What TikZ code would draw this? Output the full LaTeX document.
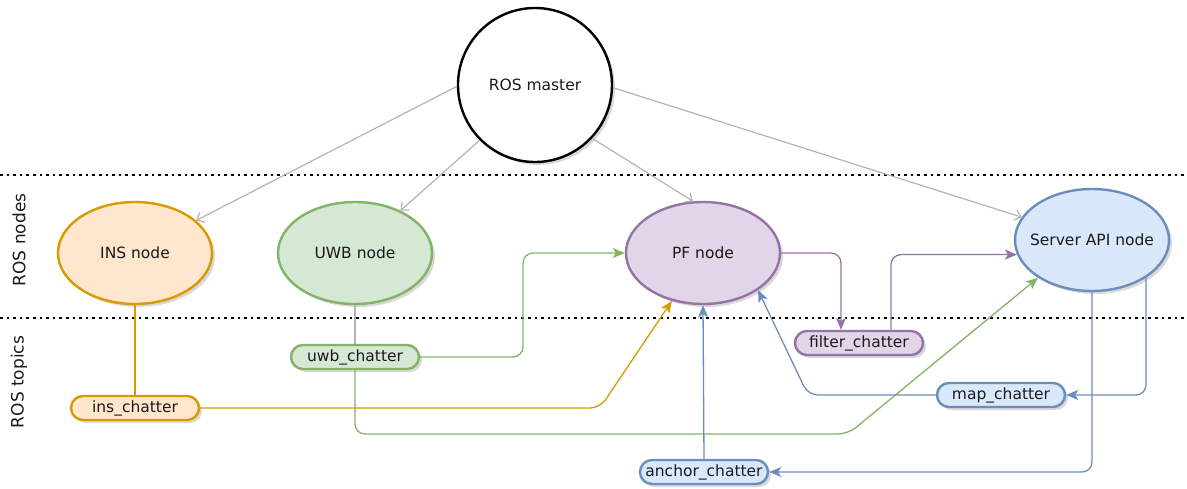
\documentclass[tikz,border=0pt]{standalone}
\usepackage{fontspec}
\setmainfont{DejaVu Sans}
\usetikzlibrary{shapes.geometric,shadows,arrows.meta}
\definecolor{insfill}{HTML}{FFE6CC}\definecolor{insline}{HTML}{D79B00}
\definecolor{uwbfill}{HTML}{D5E8D4}\definecolor{uwbline}{HTML}{82B366}
\definecolor{pffill}{HTML}{E1D5E7}\definecolor{pfline}{HTML}{9673A6}
\definecolor{apifill}{HTML}{DAE8FC}\definecolor{apiline}{HTML}{6C8EBF}
\definecolor{masterline}{HTML}{B3B3B3}\definecolor{txt}{HTML}{1A1A1A}
\begin{document}
\begin{tikzpicture}[x=1pt,y=-1pt,
  every node/.style={text=txt,font=\fontsize{15.5}{18}\selectfont},
  shade/.style={drop shadow={shadow xshift=3pt,shadow yshift=-3pt,opacity=0.3}},
  rosnode/.style={draw,ellipse,line width=2.4pt,minimum width=154pt,minimum height=102pt,shade},
  topic/.style={draw,rectangle,rounded corners=12pt,line width=2.4pt,minimum width=128pt,minimum height=24pt,inner sep=0pt,shade},
  reg/.style={draw,line width=1.2pt,masterline,-{Straight Barb[length=6pt,width=11pt]}},
  pub/.style={line width=1.3pt,rounded corners=10pt,-{Stealth[length=12pt,width=10pt,inset=3pt]}},
  sep/.style={line width=2.6pt,dash pattern=on 2.6pt off 4pt}]
  \useasboundingbox (0,0) rectangle (1187,488);
  % layers
  \draw[sep] (0,175) -- (1187,175);
  \draw[sep] (0,318) -- (1187,318);
  \node[rotate=90,font=\fontsize{17}{20}\selectfont] (lnodes) at (19,240) {ROS nodes};
  \node[rotate=90,font=\fontsize{17}{20}\selectfont] (ltopics) at (19,382) {ROS topics};
  % nodes
  \node[draw,circle,line width=2.4pt,fill=white,minimum size=154pt,shade] (master) at (535,85) {ROS master};
  \node[rosnode,draw=insline,fill=insfill] (ins) at (135,253) {INS node};
  \node[rosnode,draw=uwbline,fill=uwbfill] (uwb) at (355,253) {UWB node};
  \node[rosnode,draw=pfline,fill=pffill] (pf) at (703,253) {PF node};
  \node[rosnode,draw=apiline,fill=apifill,inner xsep=-11pt] (api) at (1092,240) {Server API node};
  % topics
  \node[topic,draw=insline,fill=insfill] (tins) at (135,408) {ins\_chatter};
  \node[topic,draw=uwbline,fill=uwbfill] (tuwb) at (355,357) {uwb\_chatter};
  \node[topic,draw=pfline,fill=pffill] (tfilter) at (859,343) {filter\_chatter};
  \node[topic,draw=apiline,fill=apifill] (tmap) at (1001,395) {map\_chatter};
  \node[topic,draw=apiline,fill=apifill] (tanchor) at (704,472) {anchor\_chatter};
  % master links
  \draw[reg] (master.181) -- (ins.28);
  \draw[reg] (master.225) -- (uwb.43);
  \draw[reg] (master.317) -- (pf.101);
  \draw[reg] (master.358) -- (api.162);
  % publish / subscribe
  \draw[line width=1.3pt,insline] (ins.south) -- (tins.north);
  \draw[line width=1.3pt,masterline] (uwb.south) -- (tuwb.north);
  \draw[pub,insline] (tins.east) -- (600,408) -- (pf.237);
  \draw[pub,uwbline] (tuwb.east) -- (523,357) -- (523,253) -- (pf.west);
  \draw[pub,uwbline] (tuwb.south) -- (355,434) -- (848,434) -- (api.215);
  \draw[pub,pfline] (pf.east) -- (841,253) -- ([xshift=-18pt]tfilter.north);
  \draw[pub,pfline] ([xshift=32pt]tfilter.north) |- (api.191);
  \draw[pub,apiline] (api.325) |- (tmap.east);
  \draw[pub,apiline] (tmap.west) -- (808,395) -- (pf.326);
  \draw[pub,apiline] (api.south) |- (tanchor.east);
  \draw[pub,apiline] (tanchor.north) -- (pf.south);
\end{tikzpicture}
\end{document}
